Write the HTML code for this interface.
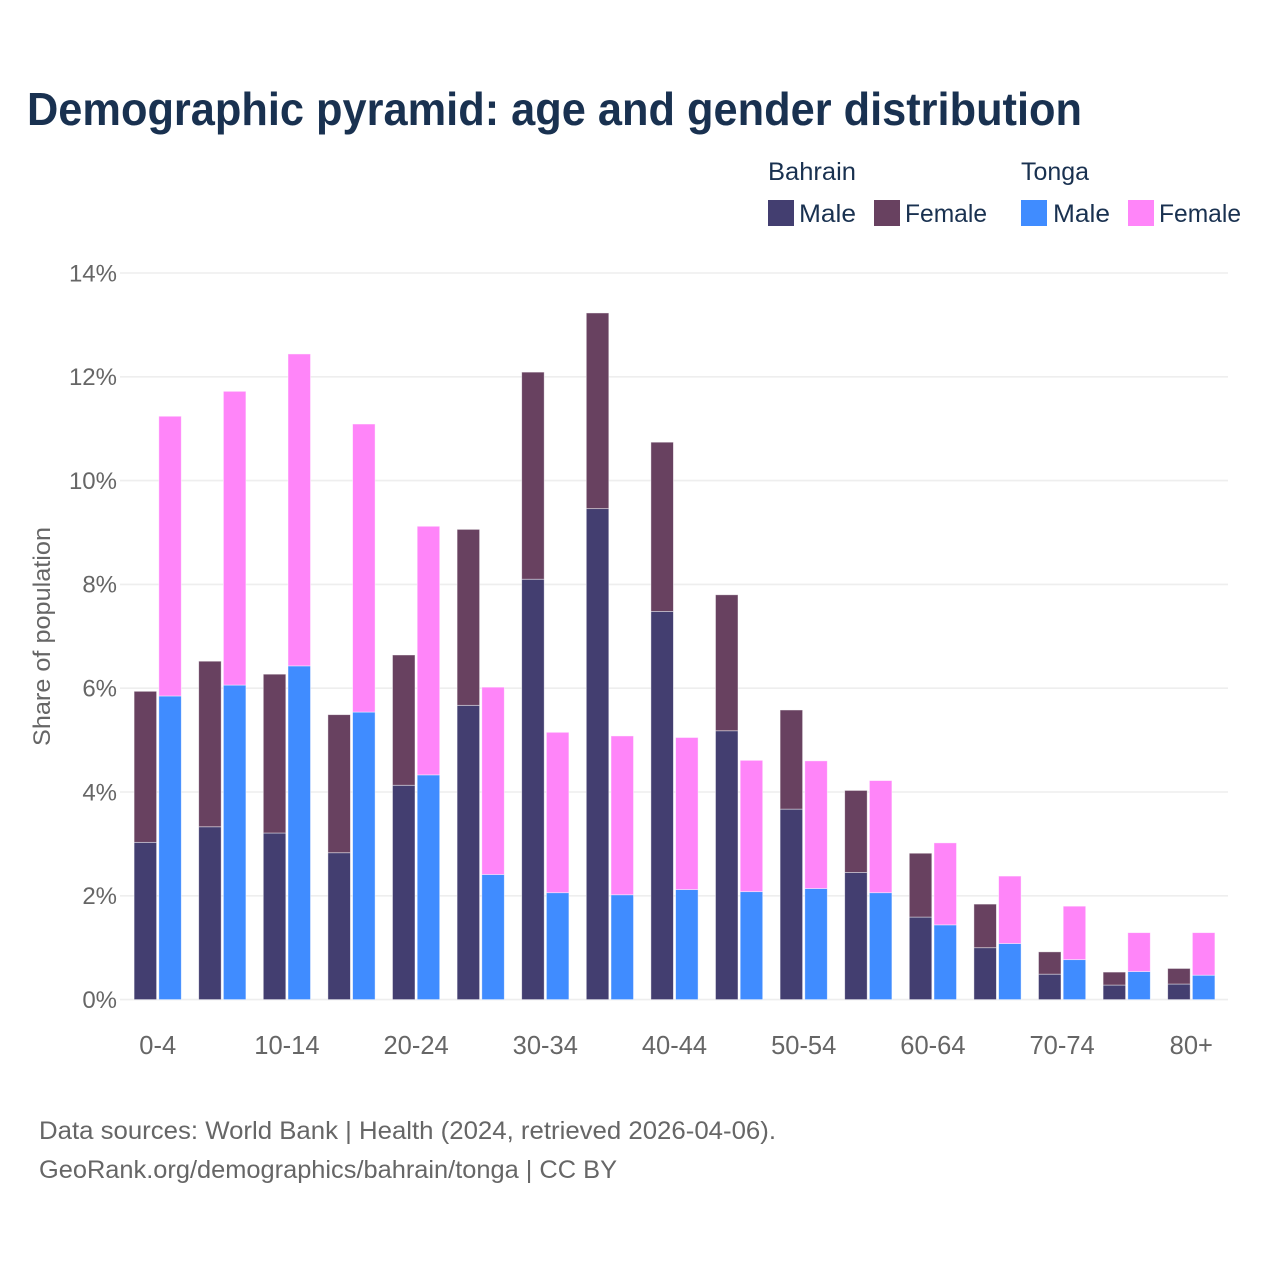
<!DOCTYPE html>
<html lang="en">
<head>
<meta charset="utf-8">
<title>Demographic pyramid</title>
<style>
html,body{margin:0;padding:0;background:#fff;width:1280px;height:1280px;overflow:hidden}
svg{display:block}
text{font-family:"Liberation Sans",sans-serif}
.dark{fill:#193150}
.grey{fill:#666666}
</style>
</head>
<body>
<svg id="chart" xmlns="http://www.w3.org/2000/svg" width="1280" height="1280" viewBox="0 0 1280 1280">
  <rect width="1280" height="1280" fill="#ffffff"/>
  <text class="dark" x="27" y="125" font-size="46" font-weight="700" textLength="1055" lengthAdjust="spacingAndGlyphs">Demographic pyramid: age and gender distribution</text>

  <g>
    <text class="dark" x="768" y="180" font-size="25" textLength="88" lengthAdjust="spacingAndGlyphs">Bahrain</text>
    <text class="dark" x="1021" y="180" font-size="25" textLength="68" lengthAdjust="spacingAndGlyphs">Tonga</text>
    <rect x="768" y="200" width="26" height="26" fill="#433e70"/>
    <text class="dark" x="799" y="222" font-size="25" textLength="57" lengthAdjust="spacingAndGlyphs">Male</text>
    <rect x="874" y="200" width="26" height="26" fill="#684160"/>
    <text class="dark" x="905" y="222" font-size="25" textLength="82" lengthAdjust="spacingAndGlyphs">Female</text>
    <rect x="1021" y="200" width="26" height="26" fill="#408cff"/>
    <text class="dark" x="1053" y="222" font-size="25" textLength="57" lengthAdjust="spacingAndGlyphs">Male</text>
    <rect x="1128" y="200" width="26" height="26" fill="#ff85f9"/>
    <text class="dark" x="1159" y="222" font-size="25" textLength="82" lengthAdjust="spacingAndGlyphs">Female</text>
  </g>

  <g id="grid"></g>
  <g id="yticks"></g>
  <g id="bars"></g>
  <g id="xticks"></g>

  <text class="grey" transform="translate(50,636.5) rotate(-90)" text-anchor="middle" font-size="24" textLength="219" lengthAdjust="spacingAndGlyphs">Share of population</text>

  <text class="grey" x="39" y="1139" font-size="25" textLength="737" lengthAdjust="spacingAndGlyphs">Data sources: World Bank | Health (2024, retrieved 2026-04-06).</text>
  <text class="grey" x="39" y="1178" font-size="25" textLength="578" lengthAdjust="spacingAndGlyphs">GeoRank.org/demographics/bahrain/tonga | CC BY</text>
</svg>
<script>
const categories = ["0-4","5-9","10-14","15-19","20-24","25-29","30-34","35-39","40-44","45-49","50-54","55-59","60-64","65-69","70-74","75-79","80+"];
const bahrainMale = [3.03,3.33,3.21,2.83,4.13,5.67,8.10,9.46,7.48,5.18,3.67,2.45,1.59,1.00,0.49,0.28,0.30];
const bahrainFemale = [2.91,3.19,3.06,2.66,2.51,3.39,3.99,3.77,3.26,2.62,1.91,1.58,1.23,0.84,0.43,0.25,0.30];
const tongaMale = [5.85,6.06,6.43,5.54,4.33,2.41,2.06,2.02,2.12,2.08,2.14,2.06,1.44,1.08,0.77,0.54,0.47];
const tongaFemale = [5.39,5.66,6.01,5.55,4.79,3.61,3.09,3.06,2.93,2.53,2.46,2.16,1.58,1.30,1.03,0.75,0.82];
const yTicks = [0,2,4,6,8,10,12,14];
const yTickLabels = ["0%","2%","4%","6%","8%","10%","12%","14%"];
const xTickLabels = ["0-4","10-14","20-24","30-34","40-44","50-54","60-64","70-74","80+"];

const NS = "http://www.w3.org/2000/svg";
const yBase = 999.6, yPerUnit = 51.9;
const bandStart = 125.4, bandStep = 64.6;
const barWidth = 22.5, barGap = 2.2;
function yScale(v){ return yBase - v * yPerUnit; }
function xCenter(i){ return bandStart + bandStep * (i + 0.5); }
function make(tag, attrs, parent){
  const el = document.createElementNS(NS, tag);
  for (const k in attrs) el.setAttribute(k, attrs[k]);
  parent.appendChild(el);
  return el;
}
const gridG = document.getElementById("grid");
const yG = document.getElementById("yticks");
const barsG = document.getElementById("bars");
const xG = document.getElementById("xticks");

yTicks.forEach(function(t, i){
  const line = make("line", {x1:120, x2:1228, y1:yScale(t), y2:yScale(t), stroke:"#eeeeee", "stroke-width":1.6}, gridG);
  
  
  const label = make("text", {x:117, y:yScale(t) + 8.3, "text-anchor":"end", "font-size":24, class:"grey"}, yG);
  label.textContent = yTickLabels[i];
  
  
});

function drawBar(x, from, to, fill, name){
  const r = make("rect", {x:x, y:yScale(to), width:barWidth, height:yScale(from) - yScale(to), fill:fill, stroke:"#ffffff", "stroke-opacity":0.55, "stroke-width":0.8}, barsG);
  
  
}
categories.forEach(function(cat, i){
  const c = xCenter(i);
  const leftX = c - barGap / 2 - barWidth;
  const rightX = c + barGap / 2;
  drawBar(leftX, 0, bahrainMale[i], "#433e70", "bar-bahrain-male");
  drawBar(leftX, bahrainMale[i], bahrainMale[i] + bahrainFemale[i], "#684160", "bar-bahrain-female");
  drawBar(rightX, 0, tongaMale[i], "#408cff", "bar-tonga-male");
  drawBar(rightX, tongaMale[i], tongaMale[i] + tongaFemale[i], "#ff85f9", "bar-tonga-female");
  const tickIndex = xTickLabels.indexOf(cat);
  if (tickIndex >= 0) {
    const label = make("text", {x:c, y:1054, "text-anchor":"middle", "font-size":25.5, class:"grey"}, xG);
    label.textContent = xTickLabels[tickIndex];
    
    
  }
});
</script>
</body>
</html>
